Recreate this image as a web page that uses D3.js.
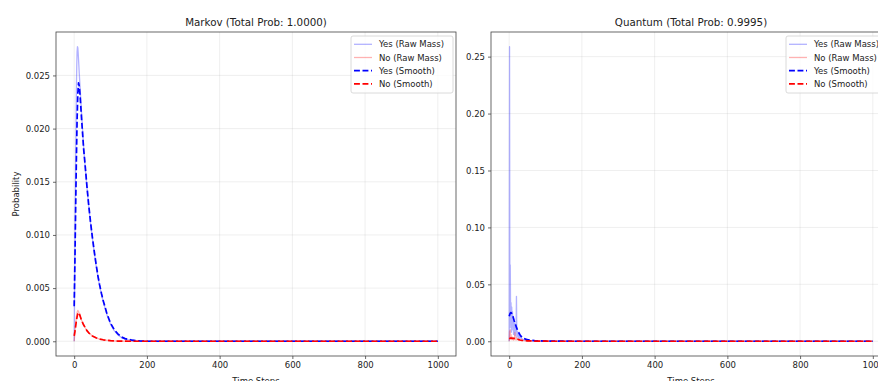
<!DOCTYPE html>
<html>
<head>
<meta charset="utf-8">
<script src="https://cdn.jsdelivr.net/npm/d3@7"></script>
<style>
  body { margin: 0; background: #fff; }
  svg { font-family: 'DejaVu Sans', sans-serif; }
</style>
</head>
<body>
<svg id="chart" width="878" height="381"></svg>
<script>
// [time step, probability]
const markovYesRaw = [[0,0],[1,0.004],[2,0.0085],[3,0.013],[4,0.017],[5,0.0205],[6,0.0235],[7,0.0258],[8,0.0272],[9,0.0277],[10,0.0276],[11,0.0271],[12,0.0265],[14,0.0252],[16,0.024],[18,0.0228],[20,0.0216],[23,0.0199],[26,0.0183],[30,0.0165],[35,0.0145],[40,0.0127],[45,0.0111],[50,0.0097],[55,0.0084],[60,0.0072],[65,0.0061],[70,0.0052],[75,0.0044],[80,0.0037],[90,0.0025],[100,0.0016],[110,0.001],[120,0.0006],[130,0.00035],[140,0.0002],[160,0.00007],[180,0.00002],[200,0],[1000,0]];
const markovNoRaw = [[0,0],[2,0.0008],[4,0.0016],[6,0.0023],[8,0.0027],[10,0.0029],[12,0.0028],[14,0.0026],[17,0.0023],[20,0.002],[25,0.0016],[30,0.0013],[35,0.001],[40,0.0008],[50,0.0005],[60,0.00032],[70,0.0002],[80,0.00013],[100,0.00005],[120,0.00002],[150,0],[1000,0]];
const markovYesSmooth = [[0,0.0033],[2,0.0075],[4,0.0125],[6,0.017],[8,0.0208],[10,0.0233],[12,0.0243],[14,0.024],[16,0.0232],[18,0.0222],[20,0.0211],[23,0.0196],[26,0.0181],[30,0.0166],[35,0.0146],[40,0.0128],[45,0.0112],[50,0.0098],[55,0.0085],[60,0.0073],[65,0.0062],[70,0.0053],[75,0.0045],[80,0.0038],[90,0.0026],[100,0.0017],[110,0.0011],[120,0.0007],[130,0.0004],[140,0.00025],[160,0.0001],[180,0.00003],[200,0],[1000,0]];
const markovNoSmooth = [[0,0.0005],[2,0.0009],[4,0.0014],[6,0.0019],[8,0.0023],[10,0.0026],[12,0.0027],[14,0.0026],[17,0.0023],[20,0.002],[25,0.0016],[30,0.0013],[35,0.001],[40,0.0008],[50,0.0005],[60,0.00033],[70,0.00021],[80,0.00014],[100,0.00006],[120,0.00002],[150,0],[1000,0]];

const quantumYesRaw = [[0,0],[1,0.2587],[2,0.012],[3,0.067],[4,0.02],[5,0.034],[6,0.008],[7,0.03],[8,0.015],[9,0.026],[10,0.01],[11,0.022],[12,0.006],[13,0.018],[14,0.012],[15,0.016],[16,0.005],[17,0.013],[18,0.009],[19,0.011],[20,0.0395],[21,0.004],[22,0.009],[23,0.006],[24,0.008],[25,0.003],[26,0.007],[27,0.004],[28,0.005],[29,0.002],[30,0.004],[32,0.003],[34,0.0025],[36,0.002],[38,0.0015],[40,0.0012],[45,0.001],[50,0.0008],[60,0.0005],[80,0.0002],[100,0.0001],[150,0.00003],[1000,0]];
const quantumNoRaw = [[0,0],[1,0.0088],[2,0.003],[3,0.01],[4,0.002],[5,0.006],[6,0.0015],[7,0.004],[8,0.002],[9,0.0035],[10,0.0015],[11,0.003],[12,0.001],[13,0.0025],[14,0.0015],[15,0.003],[16,0.0077],[17,0.002],[18,0.0025],[19,0.001],[20,0.0035],[22,0.0015],[24,0.002],[26,0.001],[28,0.0015],[30,0.0008],[35,0.0007],[40,0.0005],[50,0.0003],[70,0.00015],[100,0.00005],[150,0],[1000,0]];
const quantumYesSmooth = [[0,0.022],[2,0.024],[4,0.0252],[6,0.025],[8,0.0238],[10,0.0222],[12,0.02],[14,0.0178],[16,0.0158],[18,0.014],[20,0.0122],[22,0.0105],[25,0.0085],[28,0.0066],[31,0.005],[35,0.0036],[40,0.0026],[45,0.0019],[50,0.0014],[60,0.0009],[70,0.0006],[80,0.0004],[100,0.0002],[150,0.00005],[200,0],[1000,0]];
const quantumNoSmooth = [[0,0.0022],[3,0.0027],[6,0.0028],[10,0.0026],[14,0.0025],[18,0.0024],[22,0.002],[26,0.0015],[30,0.0011],[35,0.0008],[40,0.0006],[50,0.0004],[70,0.0002],[100,0.00006],[150,0],[1000,0]];

const xTicks = [0, 200, 400, 600, 800, 1000];
const markovYTicks = [0, 0.005, 0.01, 0.015, 0.02, 0.025];
const quantumYTicks = [0, 0.05, 0.1, 0.15, 0.2, 0.25];
const seriesNames = ['Yes (Raw Mass)', 'No (Raw Mass)', 'Yes (Smooth)', 'No (Smooth)'];

const styles = [
  { color: 'blue', width: 1.3, opacity: 0.3, dash: null },
  { color: 'red', width: 1.3, opacity: 0.3, dash: null },
  { color: 'blue', width: 1.7, opacity: 1, dash: '5.9,2.6' },
  { color: 'red', width: 1.7, opacity: 1, dash: '5.9,2.6' }
];

const panels = [
  { title: 'Markov (Total Prob: 1.0000)', left: 56, yTicks: markovYTicks, fmt: '.3f', ylabel: 'Probability',
    series: [markovYesRaw, markovNoRaw, markovYesSmooth, markovNoSmooth] },
  { title: 'Quantum (Total Prob: 0.9995)', left: 491, yTicks: quantumYTicks, fmt: '.2f', ylabel: null,
    series: [quantumYesRaw, quantumNoRaw, quantumYesSmooth, quantumNoSmooth] }
];

const svg = d3.select('#chart');
const W = 400, plotTop = 32, H = 324;

panels.forEach((p) => {
  const g = svg.append('g').attr('transform', `translate(${p.left},${plotTop})`);

  const x = d3.scaleLinear().domain([-50, 1050]).range([0, W]);
  const ymax = d3.max(p.series, (s) => d3.max(s, (d) => d[1]));
  const y = d3.scaleLinear().domain([-0.05 * ymax, 1.05 * ymax]).range([H, 0]);

  // grid
  g.append('g').selectAll('line').data(xTicks).enter().append('line')
    .attr('x1', (d) => x(d)).attr('x2', (d) => x(d)).attr('y1', 0).attr('y2', H)
    .attr('stroke', '#b0b0b0').attr('stroke-opacity', 0.3).attr('stroke-width', 0.7);
  g.append('g').selectAll('line').data(p.yTicks).enter().append('line')
    .attr('y1', (d) => y(d)).attr('y2', (d) => y(d)).attr('x1', 0).attr('x2', W)
    .attr('stroke', '#b0b0b0').attr('stroke-opacity', 0.3).attr('stroke-width', 0.7);

  const line = d3.line().x((d) => x(d[0])).y((d) => y(d[1]));
  p.series.forEach((s, i) => {
    const st = styles[i];
    g.append('path').datum(s)
      .attr('d', line)
      .attr('fill', 'none')
      .attr('stroke', st.color)
      .attr('stroke-width', st.width)
      .attr('stroke-opacity', st.opacity)
      .attr('stroke-linejoin', 'round')
      .attr('stroke-dasharray', st.dash);
  });

  const xAxis = g.append('g').attr('transform', `translate(0,${H})`)
    .call(d3.axisBottom(x).tickValues(xTicks).tickSize(3).tickPadding(3).tickFormat(d3.format('d')));
  const yAxis = g.append('g')
    .call(d3.axisLeft(y).tickValues(p.yTicks).tickSize(3).tickPadding(3).tickFormat(d3.format(p.fmt)));
  [xAxis, yAxis].forEach((a) => {
    a.select('.domain').remove();
    a.selectAll('line').attr('stroke', '#444').attr('stroke-width', 0.8);
    a.selectAll('text').attr('fill', '#222').style('font-size', '8.5px').style('font-family', 'DejaVu Sans');
  });

  g.append('rect').attr('width', W).attr('height', H)
    .attr('fill', 'none').attr('stroke', '#444').attr('stroke-width', 0.8);

  g.append('text').attr('x', W / 2).attr('y', -6).attr('text-anchor', 'middle')
    .attr('fill', '#222').style('font-size', '10.3px').text(p.title);
  g.append('text').attr('x', W / 2).attr('y', H + 28).attr('text-anchor', 'middle')
    .attr('fill', '#222').style('font-size', '8.5px').text('Time Steps');
  if (p.ylabel) {
    g.append('text').attr('transform', `translate(${-37},${H / 2}) rotate(-90)`)
      .attr('text-anchor', 'middle').attr('fill', '#222').style('font-size', '8.5px').text(p.ylabel);
  }

  // legend, upper right
  const lw = 102, lh = 57;
  const leg = g.append('g').attr('transform', `translate(${W - 3 - lw},4)`);
  leg.append('rect').attr('width', lw).attr('height', lh).attr('rx', 2)
    .attr('fill', '#fff').attr('fill-opacity', 0.8).attr('stroke', '#d0d0d0').attr('stroke-width', 0.8);
  seriesNames.forEach((name, i) => {
    const st = styles[i];
    const ly = 8.3 + i * 13.2;
    leg.append('line').attr('x1', 3).attr('x2', 21).attr('y1', ly).attr('y2', ly)
      .attr('stroke', st.color).attr('stroke-width', st.width).attr('stroke-opacity', st.opacity)
      .attr('stroke-dasharray', st.dash);
    leg.append('text').attr('x', 28).attr('y', ly + 3).attr('fill', '#222')
      .style('font-size', '8.5px').text(name);
  });
});
</script>
</body>
</html>
